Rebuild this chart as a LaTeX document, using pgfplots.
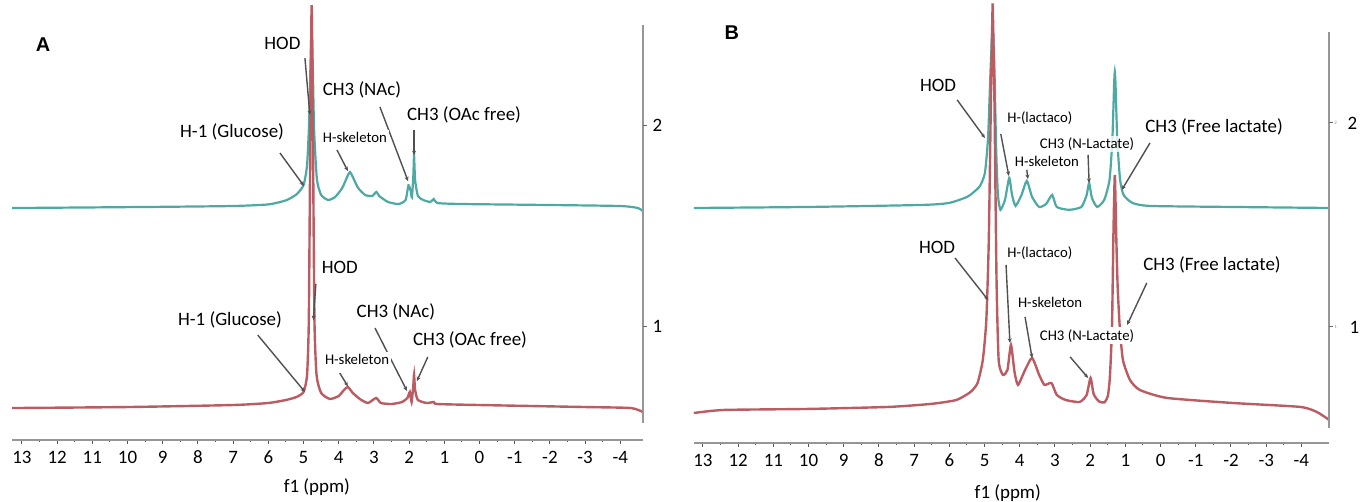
\documentclass[border=0pt]{standalone}
\usepackage{fontspec}
\setmainfont{Carlito}
\newfontfamily\panelfont{Liberation Sans}
\usepackage{pgfplots}
\pgfplotsset{compat=1.18}
\usetikzlibrary{arrows.meta}

\definecolor{specteal}{RGB}{76,170,162}
\definecolor{specred}{RGB}{186,92,98}
\definecolor{leadgray}{RGB}{80,80,80}
\definecolor{axgray}{RGB}{150,150,150}

\tikzset{
  lab/.style={fill=white, inner sep=2bp, font=\fontsize{19}{22}\selectfont},
  labs/.style={fill=white, inner sep=2bp, font=\fontsize{14.8}{17}\selectfont},
  ldr/.style={draw=leadgray, line width=1.4bp, -{Stealth[length=4.5bp,width=4bp]}},
}
\pgfplotsset{
  nmr/.style={
    scale only axis, clip=false, x dir=reverse,
    axis x line*=bottom, axis y line=none,
    xtick={-4,...,13}, minor x tick num=1,
    tick align=outside,
    major tick length=3.5bp, minor tick length=2bp,
    axis line style={axgray, line width=2bp},
    tick style={black!65, line width=1bp},
    ticklabel style={font=\fontsize{19}{22}\selectfont},
    xticklabel style={yshift=-4bp},
    /pgf/number format/assume math mode=true,
    ymin=0.433, ymax=2.6,
  },
  teal line/.style={specteal, line width=2.2bp, smooth, tension=0.35},
  red line/.style={specred, line width=2.4bp, smooth, tension=0.35},
}

\begin{document}
\begin{tikzpicture}
\path[use as bounding box] (0bp,0bp) rectangle (1370bp,502bp);

% ---------------- panel A ----------------
\begin{axis}[nmr, at={(12.1bp,62bp)}, anchor=south west,
  width=631.1bp, height=435.6bp, xmin=-4.65, xmax=13.28]
\addplot[teal line] coordinates {
(13.28,1.587) (11,1.590) (9,1.593) (7,1.597) (6,1.605) (5.5,1.625) (5.2,1.655)
(5.0,1.701) (4.9,1.80) (4.84,2.02) (4.80,2.32) (4.77,2.50) (4.74,2.32) (4.70,1.98)
(4.62,1.73) (4.5,1.652) (4.3,1.627) (4.1,1.642) (3.9,1.687) (3.75,1.746) (3.68,1.766)
(3.6,1.741) (3.45,1.687) (3.25,1.652) (3.05,1.647) (2.93,1.667) (2.85,1.647) (2.6,1.617)
(2.3,1.607) (2.1,1.627) (2.02,1.70) (1.96,1.675) (1.92,1.64) (1.88,1.75) (1.86,1.85)
(1.83,1.726) (1.75,1.647) (1.6,1.627) (1.4,1.617) (1.3,1.632) (1.2,1.612) (0.5,1.607)
(-2,1.602) (-4,1.597) (-4.5,1.587) (-4.64,1.572)
};
\addplot[red line] coordinates {
(13.28,0.592) (10,0.597) (7,0.607) (6,0.617) (5.5,0.632) (5.2,0.647) (5.0,0.672)
(4.9,0.756) (4.85,1.03) (4.81,1.876) (4.775,2.547) (4.765,2.547) (4.73,1.876) (4.69,1.03)
(4.63,0.756) (4.5,0.667) (4.25,0.637) (4.0,0.652) (3.85,0.682) (3.74,0.697) (3.6,0.667)
(3.4,0.637) (3.17,0.617) (2.94,0.642) (2.8,0.617) (2.5,0.612) (2.2,0.622) (2.05,0.642)
(1.98,0.672) (1.93,0.622) (1.88,0.706) (1.86,0.756) (1.83,0.682) (1.75,0.632) (1.5,0.617)
(1.3,0.622) (1.2,0.612) (0,0.607) (-3,0.597) (-4.3,0.592) (-4.64,0.572)
};
% right scale
\draw[axgray, line width=2bp] (axis cs:-4.64,0.517) -- (axis cs:-4.64,2.497);
\draw[black!60, line width=1bp] (axis cs:-4.64,2) -- (axis cs:-4.75,2);
\draw[black!60, line width=1bp] (axis cs:-4.64,1) -- (axis cs:-4.75,1);
\node[anchor=west, font=\fontsize{19}{22}\selectfont] at (axis cs:-4.82,2) {2};
\node[anchor=west, font=\fontsize{19}{22}\selectfont] at (axis cs:-4.82,1) {1};
\node[font=\fontsize{19}{22}\selectfont] at (axis cs:4.62,0.199) {f1 (ppm)};
\node[font=\panelfont\bfseries\fontsize{20}{24}\selectfont] at (axis cs:12.40,2.398) {A};
% leaders, upper spectrum
\draw[ldr] (axis cs:4.96,2.333) -- (axis cs:4.82,2.05);
\draw[ldr] (axis cs:5.67,1.861) -- (axis cs:4.99,1.697);
\draw[ldr] (axis cs:2.83,2.09) -- (axis cs:2.03,1.721);
\draw[ldr] (axis cs:1.86,1.975) -- (axis cs:1.86,1.85);
\draw[ldr] (axis cs:4.05,1.876) -- (axis cs:3.74,1.771);
\node[lab] at (axis cs:5.60,2.408) {HOD};
\node[lab] at (axis cs:7.03,1.965) {H-1 (Glucose)};
\node[lab] at (axis cs:3.34,2.174) {CH3 (NAc)};
\node[lab] at (axis cs:0.44,2.05) {CH3 (OAc free)};
\node[labs] at (axis cs:3.54,1.94) {H-skeleton};
% leaders, lower spectrum
\draw[ldr] (axis cs:4.65,1.209) -- (axis cs:4.72,1.03);
\draw[ldr] (axis cs:6.30,0.955) -- (axis cs:4.96,0.672);
\draw[ldr] (axis cs:2.97,0.99) -- (axis cs:2.06,0.677);
\draw[ldr] (axis cs:1.47,0.846) -- (axis cs:1.78,0.726);
\draw[ldr] (axis cs:3.97,0.766) -- (axis cs:3.74,0.70);
\node[lab] at (axis cs:3.97,1.294) {HOD};
\node[lab] at (axis cs:7.09,1.03) {H-1 (Glucose)};
\node[lab] at (axis cs:2.375,1.07) {CH3 (NAc)};
\node[lab] at (axis cs:0.27,0.93) {CH3 (OAc free)};
\node[labs] at (axis cs:3.48,0.836) {H-skeleton};
\end{axis}

% ---------------- panel B ----------------
\begin{axis}[nmr, at={(693.8bp,59bp)}, anchor=south west,
  width=635.4bp, height=442.5bp, xmin=-4.79, xmax=13.26, ymin=0.431]
\addplot[teal line] coordinates {
(13.26,1.583) (10,1.588) (6.75,1.598) (6,1.608) (5.5,1.637) (5.3,1.662) (5.13,1.691)
(4.99,1.755) (4.90,1.931) (4.83,2.26) (4.77,2.48) (4.72,2.26) (4.67,1.868) (4.62,1.647)
(4.55,1.574) (4.42,1.623) (4.30,1.730) (4.22,1.647) (4.12,1.593) (3.95,1.647) (3.8,1.716)
(3.65,1.637) (3.45,1.588) (3.25,1.603) (3.08,1.647) (2.95,1.588) (2.6,1.574) (2.25,1.588)
(2.1,1.647) (2.03,1.706) (1.95,1.632) (1.8,1.588) (1.6,1.623) (1.45,1.721) (1.37,1.917)
(1.32,2.19) (1.30,2.25) (1.28,2.19) (1.23,1.917) (1.15,1.721) (1.05,1.647) (0.8,1.608)
(0.3,1.593) (-2,1.588) (-4.79,1.583)
};
\addplot[red line] coordinates {
(13.26,0.578) (12.4,0.593) (10,0.598) (7.7,0.608) (6.5,0.623) (5.8,0.642) (5.4,0.681)
(5.2,0.725) (5.05,0.838) (4.95,1.034) (4.88,1.426) (4.82,2.113) (4.775,2.554) (4.765,2.554)
(4.72,2.113) (4.66,1.23) (4.6,0.838) (4.48,0.765) (4.35,0.789) (4.25,0.912) (4.15,0.78)
(4.05,0.716) (3.85,0.789) (3.65,0.848) (3.45,0.765) (3.3,0.716) (3.1,0.725) (2.95,0.667)
(2.7,0.642) (2.3,0.632) (2.1,0.667) (1.99,0.750) (1.9,0.67) (1.75,0.635) (1.6,0.63)
(1.5,0.66) (1.44,0.755) (1.38,1.0) (1.34,1.45) (1.30,1.745) (1.26,1.45) (1.22,1.2)
(1.16,1.0) (1.07,0.838) (0.87,0.74) (0.59,0.691) (-0.18,0.652) (-2.06,0.627)
(-3.96,0.608) (-4.44,0.583) (-4.79,0.544)
};
% right scale
\draw[axgray, line width=2bp] (axis cs:-4.79,0.505) -- (axis cs:-4.79,2.446);
\draw[black!60, line width=1bp] (axis cs:-4.79,2) -- (axis cs:-4.90,2);
\draw[black!60, line width=1bp] (axis cs:-4.79,1) -- (axis cs:-4.90,1);
\node[anchor=west, font=\fontsize{5}{6}\selectfont, text=black!45, inner sep=0pt] at (axis cs:-4.93,2) {2};
\node[anchor=west, font=\fontsize{5}{6}\selectfont, text=black!45, inner sep=0pt] at (axis cs:-4.93,1) {1};
\node[anchor=west, font=\fontsize{19}{22}\selectfont] at (axis cs:-5.21,2) {2};
\node[anchor=west, font=\fontsize{19}{22}\selectfont] at (axis cs:-5.27,1) {1};
\node[font=\fontsize{19}{22}\selectfont] at (axis cs:4.34,0.186) {f1 (ppm)};
\node[font=\panelfont\bfseries\fontsize{20}{24}\selectfont] at (axis cs:12.18,2.441) {B};
% leaders, upper spectrum
\draw[ldr] (axis cs:5.78,2.113) -- (axis cs:4.99,1.926);
\draw[ldr] (axis cs:4.54,1.946) -- (axis cs:4.31,1.74);
\draw[ldr] (axis cs:3.80,1.770) -- (axis cs:3.77,1.725);
\draw[ldr] (axis cs:2.06,1.843) -- (axis cs:2.03,1.706);
\draw[ldr] (axis cs:0.30,1.902) -- (axis cs:1.10,1.672);
\node[lab] at (axis cs:6.32,2.186) {HOD};
\node[labs] at (axis cs:3.43,2.025) {H-(lactaco)};
\node[labs, fill opacity=0.8, text opacity=1] at (axis cs:2.09,1.897) {CH3 (N-Lactate)};
\node[labs] at (axis cs:3.23,1.809) {H-skeleton};
\node[lab, fill opacity=0.8, text opacity=1] at (axis cs:-1.52,1.98) {CH3 (Free lactate)};
% leaders, lower spectrum
\draw[ldr] (axis cs:5.84,1.338) -- (axis cs:4.90,1.132);
\draw[ldr] (axis cs:4.39,1.304) -- (axis cs:4.28,0.922);
\draw[ldr] (axis cs:3.85,1.049) -- (axis cs:3.65,0.848);
\draw[ldr] (axis cs:2.57,0.853) -- (axis cs:2.06,0.75);
\draw[ldr] (axis cs:0.39,1.216) -- (axis cs:0.95,1.01);
\node[lab] at (axis cs:6.35,1.392) {HOD};
\node[labs] at (axis cs:3.43,1.363) {H-(lactaco)};
\node[labs] at (axis cs:3.14,1.118) {H-skeleton};
\node[labs] at (axis cs:2.09,0.956) {CH3 (N-Lactate)};
\node[lab] at (axis cs:-1.46,1.304) {CH3 (Free lactate)};
\end{axis}
\end{tikzpicture}
\end{document}
